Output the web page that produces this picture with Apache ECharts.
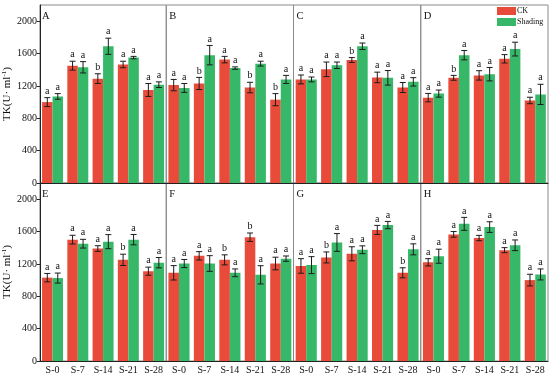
<!DOCTYPE html>
<html>
<head>
<meta charset="utf-8">
<script src="https://cdn.jsdelivr.net/npm/echarts@6/dist/echarts.min.js"></script>
<style>html,body{margin:0;padding:0;background:#fff}#c{width:550px;height:376px}</style>
</head>
<body>
<div id="c"></div>
<script>
const categories = ['S-0', 'S-7', 'S-14', 'S-21', 'S-28'];
const panelNames = ['A', 'B', 'C', 'D', 'E', 'F', 'G', 'H'];
const yTicks = [0, 400, 800, 1200, 1600, 2000];
const seriesNames = ['CK', 'Shading'];

const ckMean = [
  [1000, 1450, 1290, 1465, 1150],
  [1210, 1230, 1525, 1180, 1030],
  [1280, 1405, 1520, 1305, 1180],
  [1055, 1300, 1330, 1535, 1020],
  [1030, 1500, 1390, 1250, 1110],
  [1090, 1300, 1250, 1530, 1205],
  [1175, 1280, 1325, 1620, 1090],
  [1220, 1565, 1520, 1370, 1000]
];
const shMean = [
  [1070, 1430, 1690, 1550, 1215],
  [1175, 1580, 1420, 1475, 1280],
  [1280, 1455, 1690, 1300, 1250],
  [1105, 1580, 1345, 1655, 1095],
  [1025, 1450, 1475, 1500, 1215],
  [1205, 1205, 1090, 1065, 1265],
  [1185, 1465, 1375, 1680, 1380],
  [1295, 1695, 1655, 1430, 1070]
];
const ckErr = [
  [55, 55, 60, 40, 80],
  [70, 75, 40, 65, 75],
  [55, 90, 30, 65, 62],
  [52, 30, 58, 52, 40],
  [52, 54, 35, 70, 50],
  [89, 52, 62, 52, 78],
  [90, 68, 87, 56, 62],
  [45, 35, 33, 31, 72]
];
const shErr = [
  [35, 70, 100, 15, 35],
  [55, 120, 15, 30, 50],
  [30, 40, 40, 90, 52],
  [44, 58, 83, 85, 125],
  [62, 54, 87, 64, 64],
  [50, 97, 48, 113, 33],
  [105, 110, 48, 45, 68],
  [87, 80, 66, 66, 68]
];
const ckSig = [
  ['a', 'a', 'b', 'a', 'a'],
  ['a', 'b', 'a', 'b', 'b'],
  ['a', 'a', 'b', 'a', 'a'],
  ['a', 'b', 'a', 'a', 'a'],
  ['a', 'a', 'a', 'b', 'a'],
  ['a', 'a', 'b', 'b', 'a'],
  ['a', 'b', 'a', 'a', 'b'],
  ['a', 'a', 'a', 'a', 'a']
];
const shSig = [
  ['a', 'a', 'a', 'a', 'a'],
  ['a', 'a', 'a', 'a', 'a'],
  ['a', 'a', 'a', 'a', 'a'],
  ['a', 'a', 'a', 'a', 'a'],
  ['a', 'a', 'a', 'a', 'a'],
  ['a', 'a', 'a', 'a', 'a'],
  ['a', 'a', 'a', 'a', 'a'],
  ['a', 'a', 'a', 'a', 'a']
];

const COLORS = ['#E84B3A', '#36B868'];
const FONT = 'Liberation Serif, Times New Roman, serif';
const CAT_GAP = 0.17;
const gridLeft = 39, panelW = 127.25, rowTop = [5, 183], panelH = 178;

const grids = [], xAxes = [], yAxes = [], series = [], graphics = [];

for (let p = 0; p < 8; p++) {
  const row = Math.floor(p / 4), col = p % 4;
  const left = gridLeft + col * panelW, top = rowTop[row];
  grids.push({
    left: left, top: top, width: panelW, height: panelH,
    show: true, borderColor: '#8a8a8a', borderWidth: 1, containLabel: false
  });
  xAxes.push({
    type: 'category', gridIndex: p, data: categories,
    axisLine: { show: true, lineStyle: { color: '#222', width: 1 } },
    axisTick: { show: false },
    axisLabel: { show: row === 1, fontFamily: FONT, fontSize: 10, color: '#111', margin: 4 },
    splitLine: { show: false }
  });
  const first = col === 0;
  yAxes.push({
    type: 'value', gridIndex: p, min: 0, max: 2200, interval: 400,
    name: first ? '{t|TK(U· ml}{s|-1}{t|)}' : '',
    nameLocation: 'middle', nameGap: 23, nameRotate: 90,
    nameTextStyle: {
      rich: {
        t: { fontFamily: FONT, fontSize: 11, color: '#111' },
        s: { fontFamily: FONT, fontSize: 7, color: '#111', verticalAlign: 'top', padding: [0, 0, 6, 0] }
      }
    },
    axisLine: { show: first, lineStyle: { color: '#222', width: 1 } },
    axisTick: { show: first, length: 3, inside: false, customValues: yTicks, lineStyle: { color: '#222' } },
    axisLabel: {
      show: first, customValues: yTicks, fontFamily: FONT, fontSize: 10, color: '#111', margin: 3,
      formatter: function (v) { return String(v); }
    },
    splitLine: { show: false }
  });
  graphics.push({
    type: 'text', left: left + 3, top: top + 6,
    style: { text: panelNames[p], font: '10.5px ' + FONT, fill: '#111' }
  });

  const means = [ckMean[p], shMean[p]];
  const errs = [ckErr[p], shErr[p]];
  const sigs = [ckSig[p], shSig[p]];
  for (let s = 0; s < 2; s++) {
    series.push({
      name: seriesNames[s], type: 'bar', xAxisIndex: p, yAxisIndex: p,
      data: means[s], barGap: '0%', barCategoryGap: (CAT_GAP * 100) + '%',
      itemStyle: { color: COLORS[s] }, z: 2
    });
  }
  for (let s = 0; s < 2; s++) {
    const m = means[s], e = errs[s], g = sigs[s];
    series.push({
      type: 'custom', xAxisIndex: p, yAxisIndex: p, z: 5, silent: true,
      data: m.map((v, i) => [i, v, e[i]]),
      renderItem: function (params, api) {
        const i = api.value(0), v = api.value(1), er = api.value(2);
        const band = api.size([1, 0])[0];
        const bw = band * (1 - CAT_GAP) / 2;
        const off = s === 0 ? -bw / 2 : bw / 2;
        const c = api.coord([i, v]);
        const hi = api.coord([i, v + er]);
        const lo = api.coord([i, v - er]);
        const x = c[0] + off, cap = 3;
        const ls = { stroke: '#1c1c1c', lineWidth: 1 };
        return {
          type: 'group',
          children: [
            { type: 'line', shape: { x1: x, y1: hi[1], x2: x, y2: lo[1] }, style: ls },
            { type: 'line', shape: { x1: x - cap, y1: hi[1], x2: x + cap, y2: hi[1] }, style: ls },
            { type: 'line', shape: { x1: x - cap, y1: lo[1], x2: x + cap, y2: lo[1] }, style: ls },
            { type: 'text', style: { x: x, y: hi[1] - 1.5, text: g[params.dataIndex], font: '10px ' + FONT, fill: '#111', align: 'center', verticalAlign: 'bottom' } }
          ]
        };
      }
    });
  }
}

const chart = echarts.init(document.getElementById('c'), null, { renderer: 'canvas' });
chart.setOption({
  animation: false,
  backgroundColor: '#fff',
  grid: grids, xAxis: xAxes, yAxis: yAxes, series: series,
  legend: {
    data: seriesNames, orient: 'vertical', left: 497, top: 7,
    itemWidth: 19, itemHeight: 8, itemGap: 3, icon: 'rect',
    textStyle: { fontFamily: FONT, fontSize: 8, color: '#111', padding: [0, 0, 0, -4] },
    padding: 0
  },
  graphic: graphics
});
</script>
</body>
</html>
